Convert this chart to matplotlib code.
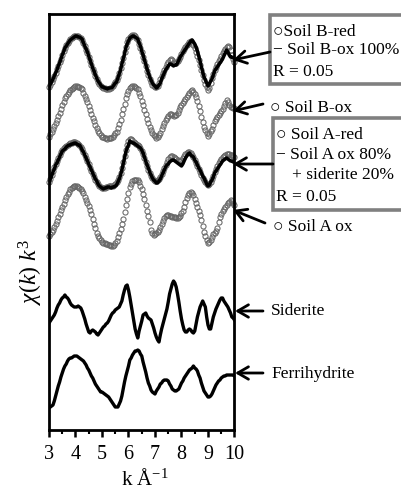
import numpy as np
import matplotlib
matplotlib.use("Agg")
import matplotlib.pyplot as plt
from matplotlib.patches import Rectangle

plt.rcParams['font.family'] = ['Liberation Serif', 'DejaVu Sans']
plt.rcParams['mathtext.fontset'] = 'custom'
plt.rcParams['mathtext.rm'] = 'Liberation Serif'
plt.rcParams['mathtext.it'] = 'Liberation Serif:italic'

# k grid (Å^-1)
k = np.linspace(3, 10, 141)

soil_B_red = [-25, -23, -20, -17, -14, -11, -7, -4, 0, 3,
              7, 11, 14, 17, 19, 21, 23, 24, 25, 26,
              26, 26, 26, 25, 24, 22, 19, 16, 12, 9,
              5, 1, -3, -7, -10, -14, -17, -20, -22, -24,
              -25, -26, -26, -27, -27, -27, -26, -26, -24, -22,
              -20, -18, -15, -11, -6, -1, 4, 10, 15, 20,
              23, 25, 26, 27, 27, 26, 24, 22, 18, 14,
              10, 5, 1, -4, -9, -13, -17, -20, -23, -24,
              -25, -25, -24, -21, -17, -14, -11, -8, -5, -2,
              0, 2, 3, 2, 0, -1, -1, 1, 3, 5,
              8, 11, 13, 15, 17, 18, 20, 21, 19, 17,
              14, 10, 6, 2, -3, -8, -13, -18, -22, -25,
              -28, -26, -21, -16, -12, -8, -5, -2, 1, 3,
              6, 9, 11, 13, 15, 16, 15, 12, 7, 3, 0]

soil_B_ox = [-25, -22, -20, -17, -14, -11, -8, -4, -1, 3,
             7, 10, 14, 16, 18, 20, 22, 23, 24, 25,
             26, 26, 25, 25, 24, 23, 19, 16, 13, 10,
             6, 2, -2, -6, -9, -13, -16, -19, -21, -23,
             -25, -25, -26, -26, -27, -26, -26, -26, -25, -23,
             -21, -20, -16, -12, -8, -2, 3, 8, 14, 18,
             21, 24, 25, 26, 26, 25, 24, 23, 19, 16,
             11, 7, 2, -2, -7, -11, -15, -18, -21, -23,
             -24, -26, -25, -23, -21, -17, -14, -11, -8, -6,
             -4, -2, -2, -3, -4, -3, -3, -1, 2, 5,
             7, 9, 11, 13, 15, 17, 19, 21, 22, 20,
             18, 15, 11, 6, 1, -5, -10, -15, -18, -21,
             -24, -22, -19, -17, -13, -9, -7, -5, -3, -1,
             1, 3, 6, 9, 12, 10, 7, 5, 5, 4, 4]

# LCF fit of Soil B-red: 100 % Soil B-ox
fit_B_red = soil_B_ox

soil_A_red = [-17, -14, -10, -6, -2, 1, 4, 7, 10, 13,
              15, 17, 18, 19, 20, 21, 22, 22, 23, 23,
              23, 22, 21, 20, 18, 16, 13, 10, 7, 4,
              1, -3, -6, -9, -12, -15, -17, -19, -21, -22,
              -23, -23, -23, -22, -22, -21, -21, -21, -21, -20,
              -19, -17, -15, -12, -8, -3, 3, 9, 15, 20,
              24, 26, 26, 25, 23, 22, 21, 20, 19, 17,
              14, 11, 7, 3, -1, -5, -8, -11, -13, -15,
              -16, -16, -15, -14, -12, -9, -6, -3, 0, 3,
              6, 8, 9, 9, 8, 7, 6, 5, 4, 4,
              5, 7, 9, 11, 12, 13, 13, 12, 10, 8,
              5, 2, -1, -4, -7, -10, -13, -15, -17, -19,
              -20, -19, -17, -14, -11, -7, -4, -1, 2, 4,
              6, 8, 9, 10, 11, 11, 11, 10, 10, 9, 8]

fit_A_red = [-18, -14, -11, -7, -4, 0, 2, 5, 8, 11,
             14, 15, 16, 18, 19, 20, 20, 21, 21, 22,
             22, 21, 20, 20, 18, 15, 13, 10, 7, 4,
             1, -2, -5, -8, -11, -14, -16, -19, -21, -22,
             -23, -24, -23, -23, -22, -22, -22, -23, -22, -22,
             -21, -20, -17, -14, -10, -5, 1, 7, 13, 17,
             20, 24, 23, 22, 22, 21, 20, 19, 18, 17,
             15, 12, 8, 4, 0, -3, -7, -10, -13, -15,
             -16, -18, -18, -16, -14, -11, -8, -5, -2, 0,
             1, 3, 4, 5, 5, 4, 3, 2, 1, 0,
             -1, 1, 4, 7, 9, 11, 12, 10, 9, 8,
             5, 3, 0, -3, -5, -8, -11, -13, -16, -19,
             -21, -20, -17, -15, -12, -8, -6, -4, -2, 0,
             2, 4, 5, 6, 7, 6, 5, 4, 4, 3, 3]

soil_A_ox = [-23, -21, -19, -17, -14, -11, -8, -4, -1, 3,
             6, 9, 13, 16, 19, 21, 24, 25, 26, 27,
             27, 27, 26, 25, 24, 22, 20, 16, 13, 10,
             7, 3, -1, -6, -11, -15, -20, -23, -25, -27,
             -29, -30, -30, -31, -31, -32, -32, -33, -33, -32,
             -30, -28, -24, -20, -16, -11, -6, 1, 8, 14,
             20, 26, 29, 32, 33, 33, 33, 33, 31, 27,
             24, 19, 14, 8, 2, -3, -9, -17, -20, -22,
             -21, -20, -19, -17, -14, -11, -8, -5, -3, -2,
             -2, -3, -3, -4, -4, -4, -5, -5, -4, -3,
             0, 2, 6, 11, 15, 18, 20, 21, 20, 18,
             14, 10, 6, 2, -2, -7, -13, -19, -23, -27,
             -30, -29, -27, -24, -21, -20, -18, -15, -9, -4,
             -1, 2, 4, 6, 8, 10, 11, 13, 12, 10, 8]

siderite = [-13, -11, -9, -7, -5, -2, 2, 5, 7, 10,
            12, 13, 15, 13, 12, 10, 7, 5, 4, 3,
            3, 3, 4, 3, 2, -1, -5, -9, -14, -18,
            -22, -23, -21, -20, -21, -22, -24, -25, -23, -21,
            -19, -17, -16, -14, -13, -11, -8, -5, -3, -2,
            0, 1, 2, 3, 6, 9, 15, 20, 24, 25,
            20, 13, 5, -3, -11, -19, -24, -28, -21, -16,
            -11, -5, -4, -3, -6, -8, -9, -10, -14, -18,
            -23, -27, -30, -32, -25, -19, -14, -9, -4, 1,
            8, 16, 21, 26, 29, 27, 23, 16, 8, -1,
            -9, -15, -20, -22, -22, -20, -19, -20, -22, -23,
            -21, -14, -7, -2, 3, 6, 9, 6, 3, -7,
            -15, -19, -19, -13, -7, -3, 1, 4, 7, 10,
            12, 12, 9, 7, 5, 3, 0, -3, -7, -8, -10]

ferrihydrite = [-29, -28, -27, -26, -22, -17, -12, -7, -3, 2,
                6, 10, 13, 15, 18, 20, 21, 21, 22, 23,
                23, 23, 22, 21, 20, 19, 18, 16, 14, 11,
                9, 6, 3, 1, -2, -5, -7, -9, -11, -13,
                -13, -14, -15, -16, -17, -18, -20, -22, -24, -26,
                -28, -28, -28, -25, -22, -17, -10, -3, 3, 8,
                13, 19, 21, 24, 26, 28, 28, 29, 28, 25,
                23, 17, 12, 7, 1, -4, -7, -11, -13, -14,
                -15, -12, -10, -8, -5, -4, -2, -1, -1, -1,
                -2, -5, -7, -10, -11, -12, -12, -11, -10, -7,
                -4, -2, 1, 3, 5, 7, 9, 10, 11, 13,
                11, 10, 8, 4, 1, -4, -8, -12, -14, -16,
                -18, -18, -17, -15, -12, -9, -6, -4, -2, -1,
                1, 2, 3, 3, 4, 4, 4, 4, 4, 4, 3]

# vertical stacking offsets (arbitrary units)
off_B_red, off_B_ox, off_A_red, off_A_ox, off_sid, off_fh = 368, 318, 265, 217, 120, 51

x_ticks = [3, 4, 5, 6, 7, 8, 9, 10]

W, H = 402, 490
fig = plt.figure(figsize=(W / 100, H / 100), dpi=100)
ax = fig.add_axes([49 / W, 1 - 430 / H, (234.5 - 49) / W, (430 - 14) / H])

mk = dict(linestyle='none', marker='o', ms=3.7, mfc='none', mec='#666666', mew=0.75, clip_on=False)
lw_fit = 2.5
lw_ref = 2.4

ax.plot(k, np.array(soil_B_red) + off_B_red, **mk)
ax.plot(k, np.array(fit_B_red) + off_B_red, color='black', lw=lw_fit)
ax.plot(k, np.array(soil_B_ox) + off_B_ox, **mk)
ax.plot(k, np.array(soil_A_red) + off_A_red, **mk)
ax.plot(k, np.array(fit_A_red) + off_A_red, color='black', lw=lw_fit)
ax.plot(k, np.array(soil_A_ox) + off_A_ox, **mk)
ax.plot(k, np.array(siderite) + off_sid, color='black', lw=lw_ref)
ax.plot(k, np.array(ferrihydrite) + off_fh, color='black', lw=lw_ref)

ax.set_xlim(3, 10)
ax.set_ylim(0, 416)
ax.set_yticks([])
ax.set_xticks(x_ticks)
ax.set_xticks(np.arange(3.5, 10, 1.0), minor=True)
ax.tick_params(axis='x', which='major', direction='out', length=5, width=1.8, labelsize=14.5, pad=6)
ax.tick_params(axis='x', which='minor', direction='out', length=3, width=1.5)
for s in ax.spines.values():
    s.set_linewidth(2.0)

def fx(x):
    return x / W

def fy(y):
    return 1 - y / H

fig.text(fx(145), fy(479), r"k Å$^{-1}$", ha='center', va='center', fontsize=15)
fig.text(fx(31), fy(272), r"$\chi(k)\ k^{3}$", ha='center', va='center', fontsize=17, rotation=90)

# boxes
for (x0, y0, y1) in [(270, 15, 84), (273, 118, 210)]:
    fig.patches.append(Rectangle((fx(x0), fy(y1)), fx(420) - fx(x0), fy(y0) - fy(y1),
                                 transform=fig.transFigure, facecolor='white',
                                 edgecolor='#808080', lw=2.6, zorder=1))

fs_box = 12.5
fs_lab = 12.5
def t(x, y, s, fs=fs_box):
    fig.text(fx(x), fy(y), s, ha='left', va='center', fontsize=fs, zorder=5)

t(273, 32, "○Soil B-red")
t(273, 50, "− Soil B-ox 100%")
t(273, 72, "R = 0.05")
t(270, 108, "○ Soil B-ox", fs_lab)
t(276, 135, "○ Soil A-red")
t(276, 155, "− Soil A ox 80%")
t(292, 175, "+ siderite 20%")
t(276, 197, "R = 0.05")
t(273, 227, "○ Soil A ox", fs_lab)
t(271, 311, "Siderite", fs_lab)
t(271, 374, "Ferrihydrite", fs_lab)

arrows = [((270, 52), (233, 60)),
          ((263, 104), (233, 111)),
          ((273, 164), (233, 164)),
          ((265, 223), (233, 210)),
          ((263, 311), (235, 311)),
          ((263, 373), (235, 373))]
for (tail, head) in arrows:
    fig.add_artist(matplotlib.patches.FancyArrowPatch(
        (fx(tail[0]), fy(tail[1])), (fx(head[0]), fy(head[1])),
        transform=fig.transFigure, arrowstyle='->,head_length=0.55,head_width=0.32',
        mutation_scale=14, lw=2.0, color='black', shrinkA=0, shrinkB=0, zorder=6))

fig.savefig('out.png', dpi=100)
